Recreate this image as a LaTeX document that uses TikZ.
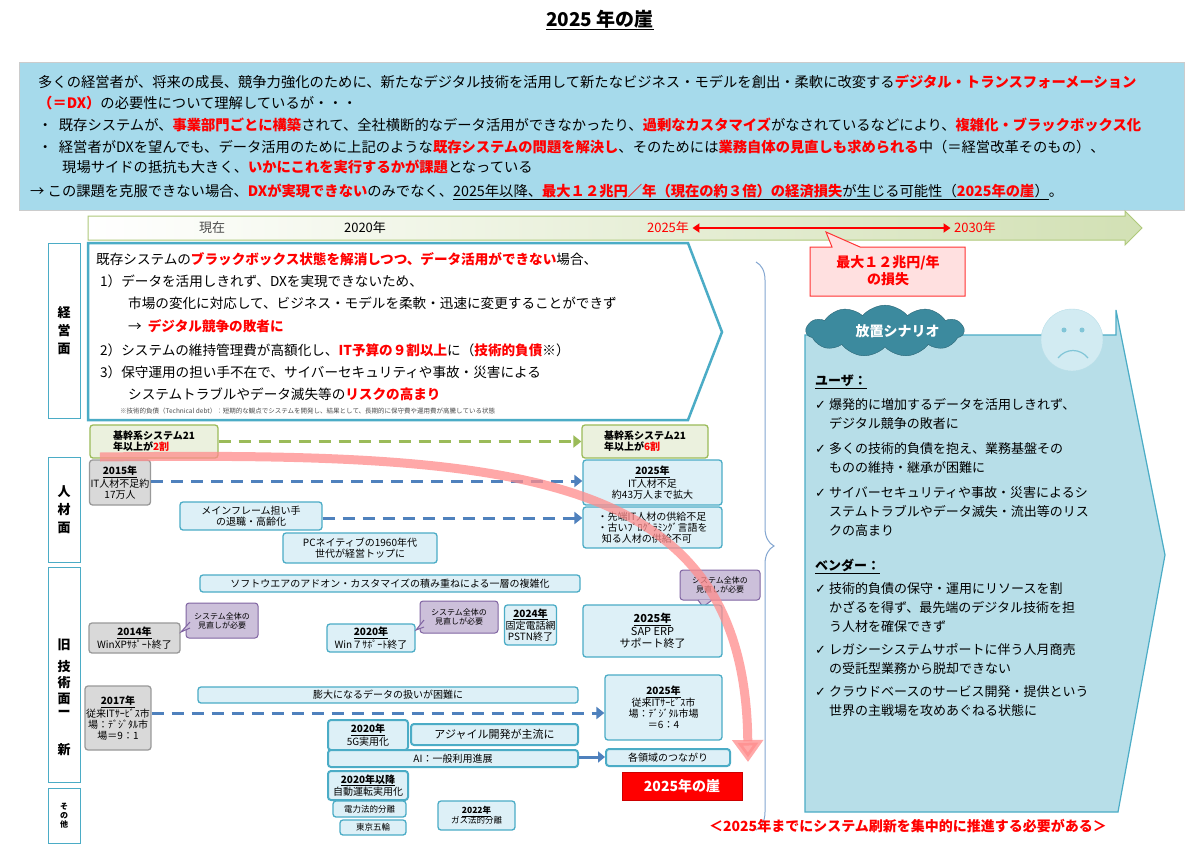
\documentclass[tikz,border=0pt]{standalone}
\usepackage{fontspec}
\setmainfont{Noto Sans CJK JP}
\newfontfamily\myDejaVu{DejaVu Sans}
\usetikzlibrary{shapes.symbols,shapes.callouts,decorations.pathreplacing,arrows.meta}
\definecolor{topblue}{HTML}{A6DAEB}
\definecolor{lblue}{HTML}{DDF0F7}
\definecolor{teal}{HTML}{4BACC6}
\definecolor{dred}{HTML}{FF0000}
\definecolor{gfill}{HTML}{EBF1DE}
\definecolor{gdraw}{HTML}{9BBB59}
\definecolor{pfill}{HTML}{CCC0DA}
\definecolor{pdraw}{HTML}{8064A2}
\definecolor{scen}{HTML}{B7DEE8}
\definecolor{arrblue}{HTML}{4F81BD}
\newcommand\R[1]{\textcolor{dred}{\textbf{#1}}}
\newcommand\mychk{\makebox[14pt][l]{\myDejaVu ✓}}
\newcommand\bx[7]{\node[#6,minimum width={(#4-#2)*1pt},minimum height={(#5-#3)*1pt}] (#1) at ({(#2+#4)/2},{(#3+#5)/2}) {#7};}
\tikzset{
 base/.style={rounded corners=3pt,inner sep=1pt,align=center,font=\fontsize{10}{11}\selectfont},
 bb/.style={base,fill=lblue,draw=teal,line width=1.3pt},
 gb/.style={base,fill=black!15,draw=black!40,line width=1.3pt},
 pb/.style={base,fill=pfill,draw=pdraw,line width=1pt,font=\fontsize{8}{9}\selectfont},
 grb/.style={base,fill=gfill,draw=gdraw,line width=1.3pt,align=left},
 cat/.style={draw=teal,line width=1pt,fill=white,align=center,font=\bfseries\fontsize{13}{18}\selectfont},
 bdash/.style={arrblue,line width=3pt,dash pattern=on 12pt off 8pt,-{Triangle[length=8pt,width=12pt]}},
 tl/.style={anchor=west,inner sep=0pt,font=\fontsize{14.3}{15}\selectfont},
 st/.style={anchor=west,inner sep=0pt,font=\fontsize{13.6}{15}\selectfont},
}
\begin{document}
\begin{tikzpicture}[x=1pt,y=-1pt]
\useasboundingbox (0,0) rectangle (1200,846);
\fill[white] (0,0) rectangle (1200,846);
% title
\node[font=\bfseries\fontsize{19}{22}\selectfont] (title) at (600,20) {\underline{2025 年の崖}};
% top box
\node[fill=topblue,draw=black!20,minimum width=1165pt,minimum height=148pt,inner sep=0pt] (top) at (602,136) {};
\node[tl] (l1) at (38,82) {多くの経営者が、将来の成長、競争力強化のために、新たなデジタル技術を活用して新たなビジネス・モデルを創出・柔軟に改変する\R{デジタル・トランスフォーメーション}};
\node[tl] (l2) at (38,103) {\R{（＝DX）}の必要性について理解しているが・・・};
\node[tl] (l3) at (38,125) {・\ \ 既存システムが、\R{事業部門ごとに構築}されて、全社横断的なデータ活用ができなかったり、\R{過剰なカスタマイズ}がなされているなどにより、\R{複雑化・ブラックボックス化}};
\node[tl] (l4) at (38,147) {・\ \ 経営者が\textit{DX}を望んでも、データ活用のために上記のような\R{既存システムの問題を解決し}、そのためには\R{業務自体の見直しも求められる}中（＝経営改革そのもの）、};
\node[tl] (l5) at (62,167) {現場サイドの抵抗も大きく、\R{いかにこれを実行するかが課題}となっている};
\node[tl] (l6) at (30,192) {→ この課題を克服できない場合、\R{DXが実現できない}のみでなく、\underline{2025年以降、\R{最大１２兆円／年（現在の約３倍）の経済損失}が生じる可能性（\R{2025年の崖}）}。};
% timeline
\path[left color=white,right color=gdraw!45,draw=gdraw!80,line width=1pt]
 (88,216) -- (1125,216) -- (1125,211) -- (1142,228) -- (1125,245) -- (1125,240) -- (88,240) -- cycle;
\node[font=\fontsize{13}{14}\selectfont,text=black!70] (now) at (212,228) {現在};
\node[font=\fontsize{13}{14}\selectfont] (y2020) at (365,228) {2020年};
\node[font=\fontsize{13}{14}\selectfont,text=dred] (y2025) at (668,228) {2025年};
\node[font=\fontsize{13}{14}\selectfont,text=dred] (y2030) at (975,228) {2030年};
\draw[dred,line width=2.5pt,{Triangle[length=7pt,width=9pt]}-{Triangle[length=7pt,width=9pt]}] (y2025.east) -- (y2030.west);
\path[fill=red!12,draw=red!80,line width=1pt] (810,247) -- (832,247) -- (826,232) -- (860,247) -- (965,247) -- (965,296) -- (810,296) -- cycle;
\node[align=center,font=\bfseries\fontsize{14}{17}\selectfont,text=dred] (loss) at (888,271) {最大１２兆円/年\\の損失};
% category column
\bx{c1}{48}{243}{80}{418}{cat}{経\\営\\面}
\bx{c2}{48}{457}{80}{562}{cat}{人\\材\\面}
\node[cat,minimum width=32pt,minimum height=215pt] (c3) at (64,675) {};
\node[font=\bfseries\fontsize{13}{16}\selectfont] (k1) at (64,645) {旧};
\node[font=\bfseries\fontsize{13}{16}\selectfont,align=center] (k2) at (64,683) {技\\術\\面};
\node[font=\bfseries\fontsize{13}{16}\selectfont] (k3) at (64,713) {ー};
\node[font=\bfseries\fontsize{13}{16}\selectfont] (k4) at (64,750) {新};
\bx{c4}{48}{788}{80}{843}{cat,font=\bfseries\fontsize{8}{9}\selectfont}{そ\\の\\他}
% pentagon
\path[draw=teal,line width=2.5pt,fill=white] (88,243) -- (688,243) -- (722,332) -- (688,420) -- (88,420) -- cycle;
\node[st] (p1) at (96,259) {既存システムの\R{ブラックボックス状態を解消しつつ、データ活用ができない}場合、};
\node[st] (p2) at (100,281) {1）データを活用しきれず、DXを実現できないため、};
\node[st] (p3) at (128,303) {市場の変化に対応して、ビジネス・モデルを柔軟・迅速に変更することができず};
\node[st] (p4) at (128,326) {→\ \ \R{デジタル競争の敗者に}};
\node[st] (p5) at (100,350) {2）システムの維持管理費が高額化し、\R{IT予算の９割以上}に（\R{技術的負債}※）};
\node[st] (p6) at (100,372) {3）保守運用の担い手不在で、サイバーセキュリティや事故・災害による};
\node[st] (p7) at (128,394) {システムトラブルやデータ滅失等の\R{リスクの高まり}};
\node[anchor=west,inner sep=0pt,font=\fontsize{6.5}{7}\selectfont,text=black!70] (p8) at (120,411) {※技術的負債（Technical debt）：短期的な観点でシステムを開発し、結果として、長期的に保守費や運用費が高騰している状態};
% human
\bx{g1}{90}{425}{218}{458}{grb}{\fontsize{10}{12}\selectfont\textbf{基幹系システム21}\\\textbf{年以上が\textcolor{dred}{2割}}}
\bx{g2}{582}{425}{708}{458}{grb}{\fontsize{10}{12}\selectfont\textbf{基幹系システム21}\\\textbf{年以上が\textcolor{dred}{6割}}}
\draw[gdraw,line width=3pt,dash pattern=on 12pt off 8pt,-{Triangle[length=8pt,width=12pt]}] (g1) -- (g2);
\bx{h1}{90}{460}{150}{505}{gb}{\textbf{\underline{2015年}}\\IT人材不足約\\17万人}
\bx{h2}{583}{460}{722}{505}{bb}{\textbf{\underline{2025年}}\\IT人材不足\\約43万人まで拡大}
\draw[bdash] (h1.east |- 0,481) -- (h2.west |- 0,481);
\bx{h3}{180}{502}{322}{530}{bb}{メインフレーム担い手\\の退職・高齢化}
\bx{h4}{583}{507}{722}{548}{bb,align=left}{・先端IT人材の供給不足\\・古いﾌﾟﾛｸﾞﾗﾐﾝｸﾞ言語を\\\ \ 知る人材の供給不可}
\draw[bdash] (h3.east |- 0,518) -- (h4.west |- 0,518);
\bx{h5}{283}{533}{437}{563}{bb}{PCネイティブの1960年代\\世代が経営トップに}
% tech
\bx{t1}{200}{575}{580}{592}{bb}{ソフトウエアのアドオン・カスタマイズの積み重ねによる一層の複雑化}
\bx{t2}{89}{623}{180}{653}{gb}{\textbf{\underline{2014年}}\\WinXPｻﾎﾟｰﾄ終了}
\bx{t3}{186}{603}{258}{638}{pb}{システム全体の\\見直しが必要}
\draw[pdraw,fill=pfill,line width=1pt] (190,622) -- (181,632) -- (190,628);
\bx{t4}{327}{624}{415}{652}{bb}{\textbf{\underline{2020年}}\\Win７ｻﾎﾟｰﾄ終了}
\bx{t5}{420}{601}{498}{633}{pb}{システム全体の\\見直しが必要}
\draw[pdraw,fill=pfill,line width=1pt] (424,620) -- (416,630) -- (424,627);
\bx{t6}{506}{605}{555}{645}{bb}{\textbf{\underline{2024年}}\\固定電話網\\PSTN終了}
\bx{t7}{680}{570}{760}{600}{pb}{システム全体の\\見直しが必要}
\draw[pdraw,fill=pfill,line width=1pt] (698,600) -- (703,607) -- (712,600);
\bx{t8}{583}{605}{722}{657}{bb,font=\fontsize{11}{12.5}\selectfont}{\textbf{\underline{2025年}}\\SAP ERP\\サポート終了}
\bx{t9}{86}{686}{150}{750}{gb}{\textbf{\underline{2017年}}\\従来ITｻｰﾋﾞｽ市\\場：ﾃﾞｼﾞﾀﾙ市\\場＝9：1}
\bx{t10}{198}{687}{578}{703}{bb}{膨大になるデータの扱いが困難に}
\bx{t11}{605}{675}{722}{740}{bb}{\textbf{\underline{2025年}}\\従来ITｻｰﾋﾞｽ市\\場：ﾃﾞｼﾞﾀﾙ市場\\＝6：4}
\draw[bdash] (t9.east |- 0,713) -- (t11.west |- 0,713);
\bx{t12}{328}{720}{408}{750}{bb,line width=2pt}{\textbf{\underline{2020年}}\\5G実用化}
\bx{t13}{411}{724}{578}{745}{bb,line width=2pt,font=\fontsize{11}{12}\selectfont}{アジャイル開発が主流に}
\bx{t14}{328}{750}{578}{767}{bb,line width=2pt}{AI：一般利用進展}
\bx{t15}{606}{749}{730}{766}{bb,line width=2pt}{各領域のつながり}
\draw[arrblue,line width=3pt,-{Triangle[length=7pt,width=11pt]}] (t14.east |- 0,757) -- (t15.west |- 0,757);
\bx{o1}{328}{771}{408}{800}{bb,line width=2pt}{\textbf{\underline{2020年以降}}\\自動運転実用化}
\bx{o2}{333}{801}{406}{817}{bb,font=\fontsize{8.5}{9}\selectfont}{電力法的分離}
\bx{o3}{340}{820}{406}{835}{bb,font=\fontsize{8.5}{9}\selectfont}{東京五輪}
\bx{o4}{438}{801}{515}{830}{bb,font=\fontsize{8.5}{10}\selectfont}{\textbf{\underline{2022年}}\\ガス法的分離}
% red curve
\coordinate (cs) at (100,457);
\coordinate (ce) at (748,762);
\draw[red!45,opacity=0.75,line width=9pt,-{Triangle[length=22pt,width=30pt]}] (cs) .. controls (520,452) and (745,470) .. (ce);
\bx{cliff}{622}{772}{742}{800}{fill=dred,draw=dred!80!black,inner sep=1pt,text=white,font=\bfseries\fontsize{14}{15}\selectfont}{2025年の崖}
% brace
\draw[arrblue!70,line width=1pt,decorate,decoration={brace,amplitude=18pt}] (756,262) -- (756,830);
% scenario
\path[fill=scen,draw=teal,line width=1.2pt] (805,335) -- (1116,335) -- (1116,310) -- (1165,555) -- (1118,812) -- (805,812) -- cycle;
\node[cloud,cloud puffs=11,cloud puff arc=100,aspect=5,fill=teal!80!black,draw=teal!60!black,inner sep=2pt,text=white,font=\bfseries\itshape\fontsize{14}{15}\selectfont] (cloud) at (885,331) {\hspace{25pt}放置シナリオ\hspace{25pt}};
\node[circle,fill=lblue!70!scen,draw=teal!40,minimum size=62pt] (face) at (1072,340) {};
\fill[teal!70] (1064,330) circle (2.5pt) (1082,330) circle (2.5pt);
\draw[teal!70,line width=1.2pt] (1058,358) .. controls (1066,348) and (1080,348) .. (1088,358);
\node[st,font=\bfseries\fontsize{13}{14}\selectfont] (u) at (815,382) {\underline{ユーザ：}};
\node[anchor=north west,inner sep=0pt,text width=320pt,align=left,font=\fontsize{13}{19}\selectfont] (ul) at (815,398) {%
\mychk 爆発的に増加するデータを活用しきれず、\\\hspace*{14pt}デジタル競争の敗者に\\[6pt]
\mychk 多くの技術的負債を抱え、業務基盤その\\\hspace*{14pt}ものの維持・継承が困難に\\[6pt]
\mychk サイバーセキュリティや事故・災害によるシ\\\hspace*{14pt}ステムトラブルやデータ滅失・流出等のリス\\\hspace*{14pt}クの高まり\\[16pt]
\textbf{\underline{ベンダー：}}\\[4pt]
\mychk 技術的負債の保守・運用にリソースを割\\\hspace*{14pt}かざるを得ず、最先端のデジタル技術を担\\\hspace*{14pt}う人材を確保できず\\[4pt]
\mychk レガシーシステムサポートに伴う人月商売\\\hspace*{14pt}の受託型業務から脱却できない\\[4pt]
\mychk クラウドベースのサービス開発・提供という\\\hspace*{14pt}世界の主戦場を攻めあぐねる状態に};
\node[text=dred,font=\bfseries\fontsize{14}{15}\selectfont] (bottom) at (908,826) {＜2025年までにシステム刷新を集中的に推進する必要がある＞};
\end{tikzpicture}
\end{document}
